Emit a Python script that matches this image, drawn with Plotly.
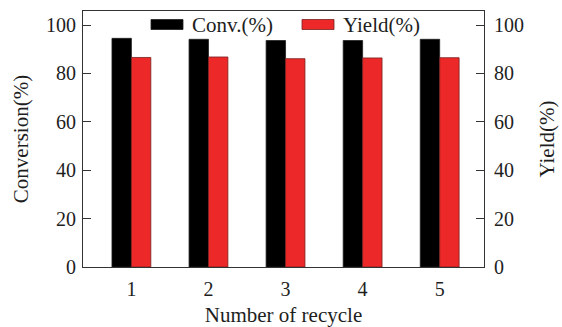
import plotly.graph_objects as go

# Recycle runs and measured performance
cycles = [1, 2, 3, 4, 5]
conversion = [94.5, 94.1, 93.6, 93.6, 94.1]
yield_pct = [86.6, 86.8, 86.1, 86.4, 86.5]
y_ticks = [0, 20, 40, 60, 80, 100]

FONT = "Liberation Serif"
TXT = "#1e1e1e"
BLACK = "#000000"
RED = "#ec2828"
BAR_W = 0.252

fig = go.Figure()
fig.add_trace(go.Bar(
    x=cycles, y=conversion, name="Conv.(%)", yaxis="y",
    width=BAR_W, offset=-BAR_W,
    marker=dict(color=BLACK, line=dict(color="#202020", width=0.8)),
    showlegend=False,
))
fig.add_trace(go.Bar(
    x=cycles, y=yield_pct, name="Yield(%)", yaxis="y2",
    width=BAR_W, offset=0,
    marker=dict(color=RED, line=dict(color="#7a2020", width=0.8)),
    showlegend=False,
))

axis_common = dict(
    range=[0, 105.8], tickvals=y_ticks, ticks="inside", ticklen=8,
    tickcolor="#333", tickwidth=1, showgrid=False, zeroline=False,
    showline=True, linecolor="#333", linewidth=1.2, automargin=False,
    tickfont=dict(family=FONT, size=20, color=TXT),
)

fig.update_layout(
    width=562, height=327,
    margin=dict(l=83, r=78, t=11, b=60),
    paper_bgcolor="white", plot_bgcolor="white",
    font=dict(family=FONT, color=TXT),
    barmode="overlay",
    xaxis=dict(
        range=[0.372, 5.575], tickvals=cycles, ticks="", showgrid=False,
        zeroline=False, showline=True, mirror=True, linecolor="#333",
        linewidth=1.2, automargin=False,
        tickfont=dict(family=FONT, size=20, color=TXT),
        ticklabelstandoff=4,
        title=dict(text="Number of recycle", font=dict(family=FONT, size=21, color=TXT), standoff=14),
    ),
    yaxis=dict(
        **axis_common, side="left", ticklabelstandoff=2,
        title=dict(text="Conversion(%)", font=dict(family=FONT, size=21, color=TXT), standoff=11),
    ),
    yaxis2=dict(
        **axis_common, side="right", overlaying="y", ticklabelstandoff=5,
        title=dict(text="Yield(%)", font=dict(family=FONT, size=21, color=TXT), standoff=16),
    ),
)

# Legend drawn inside the top of the plot with wide swatches
legend_items = [("Conv.(%)", BLACK, 151, "#202020"), ("Yield(%)", RED, 302, "#7a2020")]
for label, color, x0, edge in legend_items:
    fig.add_shape(type="rect", xref="paper", yref="paper",
                  x0=(x0 - 83) / 401, x1=(x0 + 32 - 83) / 401,
                  y0=(267 - 29.5) / 256, y1=(267 - 19.5) / 256,
                  fillcolor=color, line=dict(color=edge, width=0.8))
    fig.add_annotation(text=label, xref="paper", yref="paper",
                       x=(x0 + 39 - 83) / 401, y=(267 - 25) / 256,
                       xanchor="left", yanchor="middle", showarrow=False,
                       font=dict(family=FONT, size=21, color=TXT))

fig.write_html("out.html")
